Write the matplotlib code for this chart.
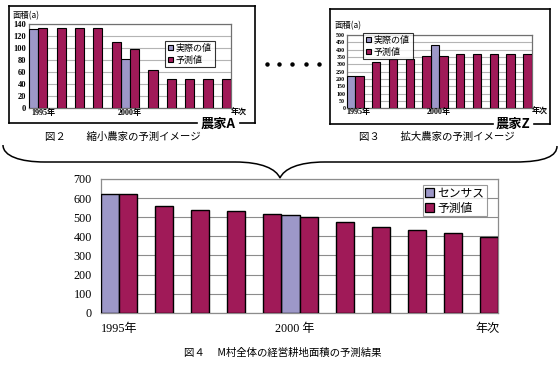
import numpy as np
import matplotlib
matplotlib.use("Agg")
import matplotlib.pyplot as plt
from matplotlib.patches import Patch, PathPatch
from matplotlib.path import Path
from matplotlib.lines import Line2D

nan = np.nan
# ---------------- data ----------------
years = ["1995", "1996", "1997", "1998", "1999", "2000", "2001", "2002", "2003", "2004", "2005"]

village_census = [620, nan, nan, nan, nan, 510, nan, nan, nan, nan, nan]
village_pred = [620, 557, 538, 532, 518, 503, 476, 450, 431, 419, 395]
village_yticks = [0, 100, 200, 300, 400, 500, 600, 700]

farmA_actual = [131, nan, nan, nan, nan, 81, nan, nan, nan, nan, nan]
farmA_pred = [133, 133, 133, 133, 110, 99, 63, 49, 49, 49, 49]
farmA_yticks = [0, 20, 40, 60, 80, 100, 120, 140]

farmZ_actual = [217, nan, nan, nan, nan, 434, nan, nan, nan, nan, nan]
farmZ_pred = [217, 316, 335, 335, 354, 354, 373, 373, 373, 373, 373]
farmZ_yticks = [0, 50, 100, 150, 200, 250, 300, 350, 400, 450, 500]

lbl_census = "センサス"
lbl_actual = "実際の値"
lbl_pred = "予測値"

# ---------------- style ----------------
W, H = 560, 369
C_CENSUS = "#9D98C8"
C_PRED = "#A01A58"
JP = ["Noto Sans CJK JP", "DejaVu Sans"]
SERIF = ["Liberation Serif", "Noto Sans CJK JP"]
plt.rcParams["font.family"] = JP

fig = plt.figure(figsize=(W / 100, H / 100), dpi=100)
fig.patch.set_facecolor("white")


def ax_px(left, top, right, bottom):
    return fig.add_axes([left / W, 1 - bottom / H, (right - left) / W, (bottom - top) / H])


def fx(x):
    return x / W


def fy(y):
    return 1 - y / H


def bar_chart(ax, actual, pred, yticks, lw, gridc, framec, tick_fs, tick_pad, tick_weight):
    x = np.arange(len(years))
    ax.bar(x - 0.25, actual, width=0.5, color=C_CENSUS, edgecolor="black", linewidth=lw, zorder=3)
    ax.bar(x + 0.25, pred, width=0.5, color=C_PRED, edgecolor="black", linewidth=lw, zorder=3)
    ax.set_xlim(-0.5, len(years) - 0.5)
    ax.set_ylim(yticks[0], yticks[-1])
    ax.set_yticks(yticks)
    ax.set_yticklabels([str(v) for v in yticks], fontsize=tick_fs, family=SERIF, weight=tick_weight)
    ax.set_xticks([])
    ax.tick_params(axis="y", length=0, pad=tick_pad)
    ax.grid(axis="y", color=gridc, linewidth=0.8, zorder=0)
    for s in ax.spines.values():
        s.set_color(framec)
        s.set_linewidth(0.9)
    ax.set_facecolor("white")


# ---------------- bottom (village) chart ----------------
axB = ax_px(101, 179, 498, 312.7)
bar_chart(axB, village_census, village_pred, village_yticks, 1.0, "#8C8C8C", "#8C8C8C", 8.7, 6.5, "normal")
tB = axB.get_xaxis_transform()
axB.text(-0.5, -0.12, "1995年", transform=tB, ha="left", va="center", fontsize=8.7, family=SERIF)
axB.text(4.88, -0.12, "2000 年", transform=tB, ha="center", va="center", fontsize=8.7, family=SERIF)
axB.text(10.55, -0.12, "年次", transform=tB, ha="right", va="center", fontsize=8.7, family=SERIF)
hB = [Patch(facecolor=C_CENSUS, edgecolor="black", linewidth=0.9, label=lbl_census),
      Patch(facecolor=C_PRED, edgecolor="black", linewidth=0.9, label=lbl_pred)]
legB = axB.legend(handles=hB, loc="upper left", bbox_to_anchor=(fx(423), fy(185)),
                  bbox_transform=fig.transFigure, fontsize=8.5, frameon=True, fancybox=False,
                  handlelength=0.8, handleheight=0.8, handletextpad=0.3, borderpad=0.15,
                  labelspacing=0.15, borderaxespad=0)
legB.get_frame().set_edgecolor("#808080")
legB.get_frame().set_linewidth(0.8)
legB.set_zorder(5)

fig.text(fx(283), fy(353), "図４　 M村全体の経営耕地面積の予測結果", ha="center", va="center", fontsize=7.5)

# ---------------- farm A (top-left) ----------------
axA = ax_px(29, 24, 231, 108)
bar_chart(axA, farmA_actual, farmA_pred, farmA_yticks, 0.8, "#B4B4B4", "#707070", 6.0, 2, "bold")
tA = axA.get_xaxis_transform()
for xp, s in [(0.26, "1995年"), (4.96, "2000年"), (10.94, "年次")]:
    axA.text(xp, -0.06, s, transform=tA, ha="center", va="center", fontsize=5.8, family=SERIF, weight="bold")
fig.text(fx(13), fy(15.5), "面積(a)", ha="left", va="center", fontsize=6, family=JP)
hA = [Patch(facecolor=C_CENSUS, edgecolor="black", linewidth=0.8, label=lbl_actual),
      Patch(facecolor=C_PRED, edgecolor="black", linewidth=0.8, label=lbl_pred)]
legA = axA.legend(handles=hA, loc="upper left", bbox_to_anchor=(fx(165), fy(41)),
                  bbox_transform=fig.transFigure, fontsize=6.5, frameon=True, fancybox=False,
                  handlelength=0.55, handleheight=0.55, handletextpad=0.35, borderpad=0.3,
                  labelspacing=0.3, borderaxespad=0)
legA.get_frame().set_edgecolor("black")
legA.get_frame().set_linewidth(0.8)
legA.set_zorder(5)

# ---------------- farm Z (top-right) ----------------
axZ = ax_px(346.7, 35, 531.7, 108.3)
bar_chart(axZ, farmZ_actual, farmZ_pred, farmZ_yticks, 0.8, "#B4B4B4", "#707070", 4.3, 1, "bold")
tZ = axZ.get_xaxis_transform()
for xp, s in [(0.17, "1995年"), (4.99, "2000年"), (11.0, "年次")]:
    axZ.text(xp, -0.05, s, transform=tZ, ha="center", va="center", fontsize=5.8, family=SERIF, weight="bold")
fig.text(fx(335), fy(26), "面積(a)", ha="left", va="center", fontsize=6, family=JP)
hZ = [Patch(facecolor=C_CENSUS, edgecolor="black", linewidth=0.8, label=lbl_actual),
      Patch(facecolor=C_PRED, edgecolor="black", linewidth=0.8, label=lbl_pred)]
legZ = axZ.legend(handles=hZ, loc="upper left", bbox_to_anchor=(fx(363), fy(33)),
                  bbox_transform=fig.transFigure, fontsize=6.5, frameon=True, fancybox=False,
                  handlelength=0.55, handleheight=0.55, handletextpad=0.35, borderpad=0.3,
                  labelspacing=0.3, borderaxespad=0)
legZ.get_frame().set_edgecolor("black")
legZ.get_frame().set_linewidth(0.8)
legZ.set_zorder(5)

# ---------------- outer boxes ----------------
def outer_box(l, t, r, b, gap_l, gap_r, label, label_x):
    kw = dict(color="black", linewidth=1.2, transform=fig.transFigure)
    fig.add_artist(Line2D([fx(l), fx(r)], [fy(t), fy(t)], **kw))
    fig.add_artist(Line2D([fx(l), fx(l)], [fy(t), fy(b)], **kw))
    fig.add_artist(Line2D([fx(r), fx(r)], [fy(t), fy(b)], **kw))
    fig.add_artist(Line2D([fx(l), fx(gap_l)], [fy(b), fy(b)], **kw))
    fig.add_artist(Line2D([fx(gap_r), fx(r)], [fy(b), fy(b)], **kw))
    fig.text(fx(label_x), fy(b + 0.5), label, ha="center", va="center", fontsize=9.5, weight="bold")


outer_box(9, 6, 255, 123, 197, 240, "農家A", 218)
outer_box(330, 9, 550, 123.5, 493, 534, "農家Z", 513)

fig.text(fx(123), fy(137), "図２　　縮小農家の予測イメージ", ha="center", va="center", fontsize=7.5)
fig.text(fx(437), fy(137), "図３　　拡大農家の予測イメージ", ha="center", va="center", fontsize=7.5)

# dots between the two farm charts
for xd in [266.7, 279.3, 292.3, 305.7, 319]:
    fig.add_artist(Line2D([fx(xd)], [fy(64.3)], marker="o", markersize=2.2, color="black",
                          linestyle="none", transform=fig.transFigure))

# ---------------- curly brace ----------------
pts = [(3, 145), (3, 156), (20, 162), (45, 162),
       (235, 162),
       (262, 162), (276, 169), (280, 178),
       (284, 169), (298, 162), (325, 162),
       (515, 162),
       (545, 162), (557, 156), (557, 146)]
codes = [Path.MOVETO, Path.CURVE4, Path.CURVE4, Path.CURVE4,
         Path.LINETO,
         Path.CURVE4, Path.CURVE4, Path.CURVE4,
         Path.CURVE4, Path.CURVE4, Path.CURVE4,
         Path.LINETO,
         Path.CURVE4, Path.CURVE4, Path.CURVE4]
verts = [(fx(x), fy(y)) for x, y in pts]
fig.add_artist(PathPatch(Path(verts, codes), facecolor="none", edgecolor="black",
                         linewidth=1.1, transform=fig.transFigure))

fig.savefig("out.png", dpi=100, facecolor="white")
